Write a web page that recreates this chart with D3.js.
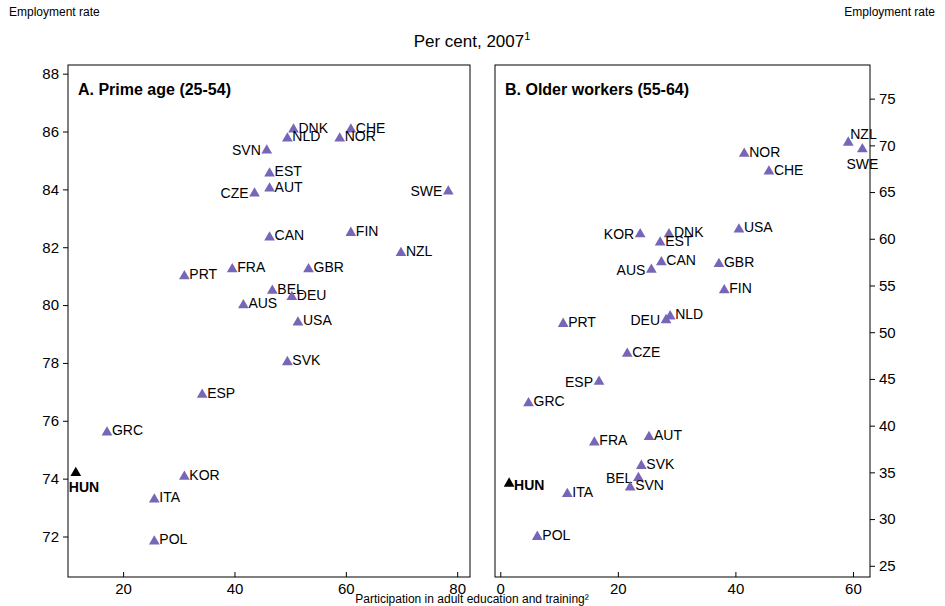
<!DOCTYPE html>
<html><head><meta charset="utf-8">
<script src="https://cdn.jsdelivr.net/npm/d3@7"></script>
<style>body{margin:0;background:#fff;font-family:Arial,"Liberation Sans",sans-serif}</style>
</head><body><div id="chart"></div>
<script>
// Panel A: prime age
let codesA = ["DNK","CHE","NLD","NOR","SVN","EST","AUT","CZE","SWE","CAN","FIN","NZL","PRT","FRA","GBR","BEL","DEU","AUS","USA","SVK","ESP","GRC","KOR","HUN","ITA","POL"];
let xA = [50.6,60.9,49.5,58.9,45.8,46.3,46.3,43.6,78.4,46.3,60.9,69.9,31.0,39.6,53.3,46.8,50.3,41.6,51.4,49.5,34.2,17.1,31.0,11.5,25.6,25.6];
let yA = [86.07,86.07,85.76,85.76,85.35,84.55,84.03,83.86,83.93,82.34,82.5,81.8,81.0,81.24,81.24,80.5,80.28,80.0,79.4,78.03,76.9,75.6,74.07,74.2,73.28,71.83];
let leftA = ["SVN","CZE","SWE"];
// Panel B: older workers
let codesB = ["NZL","SWE","NOR","CHE","USA","KOR","DNK","EST","CAN","AUS","GBR","FIN","DEU","NLD","PRT","CZE","ESP","GRC","FRA","AUT","SVK","BEL","SVN","HUN","ITA","POL"];
let xB = [59.2,61.6,41.5,45.7,40.6,23.8,28.7,27.2,27.4,25.7,37.2,38.1,28.2,28.9,10.7,21.6,16.8,4.8,16.0,25.3,24.0,23.5,22.1,1.5,11.4,6.3];
let yB = [70.3,69.6,69.1,67.2,61.0,60.5,60.5,59.6,57.5,56.7,57.3,54.5,51.3,51.7,50.9,47.7,44.7,42.4,38.2,38.8,35.7,34.4,33.4,33.8,32.7,28.1];
let leftB = ["KOR","AUS","DEU","ESP","BEL"];
let ticksA = [72,74,76,78,80,82,84,86,88], ticksB = [25,30,35,40,45,50,55,60,65,70,75];

let w = 945, h = 606, yTop = 65, yBot = 577;
let svg = d3.select("#chart").append("svg").attr("width", w).attr("height", h);
let purple = "#7766b8";

svg.append("text").attr("x", 472).attr("y", 47).attr("text-anchor", "middle")
  .attr("font-size", 17).html('Per cent, 2007<tspan dy="-7" font-size="11">1</tspan>');
svg.append("text").attr("x", 9).attr("y", 16).attr("font-size", 12).text("Employment rate");
svg.append("text").attr("x", 935).attr("y", 16).attr("font-size", 12).attr("text-anchor", "end").text("Employment rate");
svg.append("text").attr("x", 472).attr("y", 603).attr("font-size", 12).attr("text-anchor", "middle")
  .text("Participation in adult education and training²");

function panel(x0, x1, xd, yd, ticksY, side, title, codes, xs, ys, lefts, special) {
  let x = d3.scaleLinear().domain(xd).range([x0, x1]);
  let y = d3.scaleLinear().domain(yd).range([yBot, yTop]);
  let g = svg.append("g");
  g.append("rect").attr("x", x0).attr("y", yTop).attr("width", x1 - x0).attr("height", yBot - yTop)
    .attr("fill", "none").attr("stroke", "#000");
  let ax = g.append("g").attr("transform", `translate(0,${yBot})`)
    .call(d3.axisBottom(x).tickValues(xd[0] < 5 ? [0,20,40,60] : [20,40,60,80]).tickSize(-5).tickPadding(6).tickFormat(d3.format("d")));
  let ay = side == "left"
    ? g.append("g").attr("transform", `translate(${x0},0)`).call(d3.axisLeft(y).tickValues(ticksY).tickSize(5).tickPadding(4))
    : g.append("g").attr("transform", `translate(${x1},0)`).call(d3.axisRight(y).tickValues(ticksY).tickSize(5).tickPadding(4));
  [ax, ay].forEach(a => { a.select(".domain").remove(); a.selectAll("text").attr("font-size", 15).attr("fill", "#000"); });
  g.append("text").attr("x", x0 + 10).attr("y", yTop + 30).attr("font-size", 16).attr("font-weight", "bold").text(title);
  let tri = d3.symbol().type(d3.symbolTriangle).size(50);
  codes.forEach((c, i) => {
    let px = x(xs[i]), py = y(ys[i]);
    let hun = c == "HUN";
    g.append("path").attr("d", tri).attr("transform", `translate(${px},${py})`).attr("fill", hun ? "#000" : purple);
    let t = g.append("text").attr("font-size", 14).text(c);
    if (hun) t.attr("x", px - 7).attr("y", py + (special ? 19 : 6)).attr("dx", special ? 0 : 12).attr("font-weight", "bold");
    else if (c == "SWE" && !special) t.attr("x", px).attr("y", py + 20).attr("text-anchor", "middle");
    else if (c == "NZL" && !special) t.attr("x", px + 2).attr("y", py - 4);
    else if (lefts.includes(c)) t.attr("x", px - 6).attr("y", py + 5).attr("text-anchor", "end");
    else t.attr("x", px + 5).attr("y", py + 3);
  });
}
panel(68, 470, [10.1, 82.3], [70.6, 88.3], ticksA, "left", "A. Prime age (25-54)", codesA, xA, yA, leftA, true);
panel(495, 870, [-0.9, 62.9], [23.8, 78.6], ticksB, "right", "B. Older workers (55-64)", codesB, xB, yB, leftB, false);
</script></body></html>
